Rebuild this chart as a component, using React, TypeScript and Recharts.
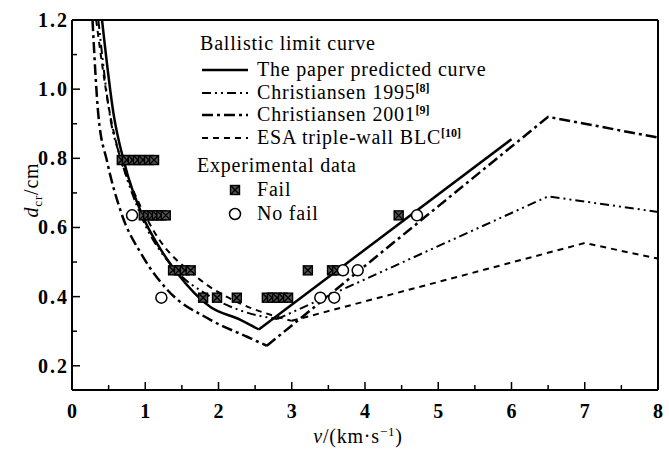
import React from "react";
import {
  ComposedChart,
  Line,
  Scatter,
  XAxis,
  YAxis,
  ReferenceLine,
} from "recharts";

// curves: left branch (smooth) + right branch (straight segments)
const paperLeftV = [0.41, 0.57, 0.71, 0.97, 1.2, 1.43, 1.89, 2.3, 2.55];
const paperLeftD = [1.2, 0.925, 0.79, 0.63, 0.54, 0.47, 0.37, 0.333, 0.305];
const paperRightV = [2.55, 6.0];
const paperRightD = [0.305, 0.855];

const c1995LeftV = [0.36, 0.52, 0.68, 0.95, 1.4, 1.85, 2.3, 2.8];
const c1995LeftD = [1.2, 0.92, 0.79, 0.63, 0.48, 0.405, 0.36, 0.335];
const c1995RightV = [2.8, 6.5, 8.0];
const c1995RightD = [0.335, 0.69, 0.645];

const c2001LeftV = [0.28, 0.36, 0.48, 0.66, 0.97, 1.3, 1.89, 2.39, 2.66];
const c2001LeftD = [1.2, 0.925, 0.79, 0.65, 0.515, 0.42, 0.333, 0.284, 0.258];
const c2001RightV = [2.66, 6.5, 8.0];
const c2001RightD = [0.258, 0.92, 0.86];

const esaLeftV = [0.33, 0.5, 0.66, 0.85, 1.13, 1.7, 2.3, 2.75, 3.0];
const esaLeftD = [1.2, 0.95, 0.8, 0.7, 0.585, 0.457, 0.38, 0.345, 0.33];
const esaRightV = [3.0, 7.0, 8.0];
const esaRightD = [0.33, 0.555, 0.51];

// experimental data
const failV = [
  0.68, 0.75, 0.83, 0.9, 0.97, 1.05, 1.12,
  0.98, 1.04, 1.1, 1.16, 1.22, 1.28,
  1.38, 1.46, 1.54, 1.62,
  1.79, 1.98, 2.25, 2.66, 2.73, 2.8, 2.88, 2.95,
  3.22, 3.55, 3.62, 4.46,
];
const failD = [
  0.795, 0.795, 0.795, 0.795, 0.795, 0.795, 0.795,
  0.635, 0.635, 0.635, 0.635, 0.635, 0.635,
  0.476, 0.476, 0.476, 0.476,
  0.397, 0.397, 0.397, 0.397, 0.397, 0.397, 0.397, 0.397,
  0.476, 0.476, 0.476, 0.635,
];
const noFailV = [0.82, 1.22, 3.39, 3.58, 3.7, 3.9, 4.71];
const noFailD = [0.635, 0.397, 0.397, 0.397, 0.476, 0.476, 0.635];

const xTicks = [0, 0.5, 1, 1.5, 2, 2.5, 3, 3.5, 4, 4.5, 5, 5.5, 6, 6.5, 7, 7.5, 8];
const yTicks = [0.2, 0.3, 0.4, 0.5, 0.6, 0.7, 0.8, 0.9, 1.0, 1.1, 1.2];

const zip = (v: number[], d: number[]) => v.map((x, i) => ({ v: x, d: d[i] }));

const serif = { fontFamily: "'Liberation Serif', 'Times New Roman', 'DejaVu Serif', serif" };

const DASH_1995 = "9 4 2 4 2 4";
const DASH_2001 = "11 4 3 4";
const DASH_ESA = "6 5";

const XTick = (props: any) => {
  const { x, y, payload } = props;
  const v = payload.value;
  const major = Number.isInteger(v);
  return (
    <g>
      <line x1={x} x2={x} y1={y} y2={y - (major ? 8 : 5)} stroke="#000" strokeWidth={1.5} />
      {major && (
        <text x={x} y={y + 28} textAnchor="middle" style={serif} fontWeight="bold" fontSize={20} fill="#000">
          {v}
        </text>
      )}
    </g>
  );
};

const YTick = (props: any) => {
  const { x, y, payload } = props;
  const v = payload.value;
  const major = Math.round(v * 10) % 2 === 0;
  return (
    <g>
      <line x1={x} x2={x + (major ? 8 : 5)} y1={y} y2={y} stroke="#000" strokeWidth={1.5} />
      {major && (
        <text x={x - 3} y={y + 7} textAnchor="end" style={{ ...serif, letterSpacing: 2 }} fontWeight="bold" fontSize={20} fill="#000">
          {v.toFixed(1)}
        </text>
      )}
    </g>
  );
};

const FailMark = ({ cx, cy }: any) => (
  <g stroke="#000" strokeWidth={1.4}>
    <rect x={cx - 4.5} y={cy - 4.5} width={9} height={9} fill="#555" />
    <line x1={cx - 4.5} y1={cy - 4.5} x2={cx + 4.5} y2={cy + 4.5} />
    <line x1={cx + 4.5} y1={cy - 4.5} x2={cx - 4.5} y2={cy + 4.5} />
  </g>
);

const NoFailMark = ({ cx, cy }: any) => (
  <circle cx={cx} cy={cy} r={5.5} fill="#fff" stroke="#000" strokeWidth={1.5} />
);

const legendRows = [
  { label: "The paper predicted curve", sup: "", dash: undefined, w: 2.5 },
  { label: "Christiansen 1995", sup: "[8]", dash: DASH_1995, w: 2 },
  { label: "Christiansen 2001", sup: "[9]", dash: DASH_2001, w: 2.5 },
  { label: "ESA triple-wall BLC", sup: "[10]", dash: DASH_ESA, w: 2 },
];

function LegendBox() {
  const rowY = [70, 93, 115, 138];
  return (
    <svg width={669} height={453} style={{ position: "absolute", left: 0, top: 0, pointerEvents: "none" }}>
      <g style={{ ...serif, letterSpacing: 0.8 }} fontSize={20} fill="#000">
        <text x={200} y={50}>Ballistic limit curve</text>
        {legendRows.map((r, i) => (
          <g key={r.label}>
            <line x1={202} x2={248} y1={rowY[i]} y2={rowY[i]} stroke="#000" strokeWidth={r.w} strokeDasharray={r.dash} />
            <text x={257} y={rowY[i] + 6}>
              {r.label}
              {r.sup && (
                <tspan fontSize={12} fontWeight="bold" dy={-7} style={{ letterSpacing: 0 }}>
                  {r.sup}
                </tspan>
              )}
            </text>
          </g>
        ))}
        <text x={197} y={172}>Experimental data</text>
        <FailMark cx={235} cy={190} />
        <text x={257} y={196}>Fail</text>
        <NoFailMark cx={235} cy={214} />
        <text x={257} y={220}>No fail</text>
      </g>
      <text x={358} y={443} textAnchor="middle" style={{ ...serif, letterSpacing: 0.8 }} fontSize={20} fill="#000">
        <tspan fontStyle="italic">v</tspan>/(km·s
        <tspan fontSize={13} dy={-7}>−1</tspan>
        <tspan dy={7}>)</tspan>
      </text>
      <text transform="translate(38,190) rotate(-90)" textAnchor="middle" style={{ ...serif, letterSpacing: 0.8 }} fontSize={20} fill="#000">
        <tspan fontStyle="italic">d</tspan>
        <tspan fontSize={13} dy={4}>cr</tspan>
        <tspan dy={-4}>/cm</tspan>
      </text>
    </svg>
  );
}

export default function App() {
  return (
    <div style={{ position: "absolute", left: 0, top: 0, width: 669, height: 453, background: "#fff" }}>
      <ComposedChart width={669} height={453} margin={{ top: 20, right: 11, bottom: 0, left: 0 }}>
        <XAxis
          type="number"
          dataKey="v"
          domain={[0, 8]}
          ticks={xTicks}
          interval={0}
          height={63}
          tickSize={0}
          tickMargin={0}
          tick={<XTick />}
          axisLine={{ stroke: "#000", strokeWidth: 2 }}
          tickLine={false}
        />
        <YAxis
          type="number"
          dataKey="d"
          domain={[0.13, 1.2]}
          allowDataOverflow
          ticks={yTicks}
          interval={0}
          width={72}
          tickSize={0}
          tickMargin={0}
          tick={<YTick />}
          axisLine={{ stroke: "#000", strokeWidth: 2 }}
          tickLine={false}
        />
        <ReferenceLine y={1.2} stroke="#000" strokeWidth={2} />
        <ReferenceLine x={8} stroke="#000" strokeWidth={2} />

        <Line data={zip(paperLeftV, paperLeftD)} dataKey="d" type="monotone" stroke="#000" strokeWidth={2.5} dot={false} isAnimationActive={false} />
        <Line data={zip(paperRightV, paperRightD)} dataKey="d" type="linear" stroke="#000" strokeWidth={2.5} dot={false} isAnimationActive={false} />

        <Line data={zip(c1995LeftV, c1995LeftD)} dataKey="d" type="monotone" stroke="#000" strokeWidth={2} strokeDasharray={DASH_1995} dot={false} isAnimationActive={false} />
        <Line data={zip(c1995RightV, c1995RightD)} dataKey="d" type="linear" stroke="#000" strokeWidth={2} strokeDasharray={DASH_1995} dot={false} isAnimationActive={false} />

        <Line data={zip(c2001LeftV, c2001LeftD)} dataKey="d" type="monotone" stroke="#000" strokeWidth={2.5} strokeDasharray={DASH_2001} dot={false} isAnimationActive={false} />
        <Line data={zip(c2001RightV, c2001RightD)} dataKey="d" type="linear" stroke="#000" strokeWidth={2.5} strokeDasharray={DASH_2001} dot={false} isAnimationActive={false} />

        <Line data={zip(esaLeftV, esaLeftD)} dataKey="d" type="monotone" stroke="#000" strokeWidth={2} strokeDasharray={DASH_ESA} dot={false} isAnimationActive={false} />
        <Line data={zip(esaRightV, esaRightD)} dataKey="d" type="linear" stroke="#000" strokeWidth={2} strokeDasharray={DASH_ESA} dot={false} isAnimationActive={false} />

        <Scatter data={zip(failV, failD)} dataKey="d" shape={(p: any) => <FailMark cx={p.cx} cy={p.cy} />} isAnimationActive={false} />
        <Scatter data={zip(noFailV, noFailD)} dataKey="d" shape={(p: any) => <NoFailMark cx={p.cx} cy={p.cy} />} isAnimationActive={false} />
      </ComposedChart>
      <LegendBox />
    </div>
  );
}
